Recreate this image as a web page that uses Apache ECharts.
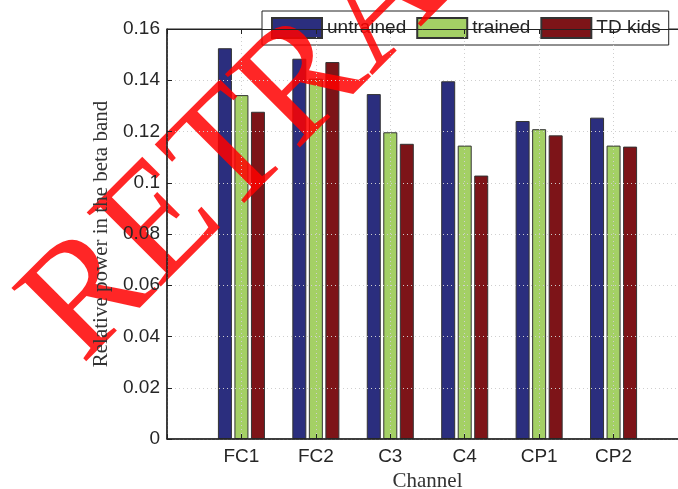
<!DOCTYPE html>
<html>
<head>
<meta charset="utf-8">
<script src="https://cdn.jsdelivr.net/npm/echarts@6/dist/echarts.min.js"></script>
<style>html,body{margin:0;padding:0;background:#fff}#c{width:678px;height:489px}</style>
</head>
<body>
<div id="c"></div>
<script>
var categories = ['FC1', 'FC2', 'C3', 'C4', 'CP1', 'CP2'];
var untrained = [0.1525, 0.1484, 0.1346, 0.1396, 0.1241, 0.1254];
var trained   = [0.1342, 0.1406, 0.1197, 0.1145, 0.1209, 0.1145];
var tdKids    = [0.1277, 0.1471, 0.1152, 0.1028, 0.1185, 0.1141];
var yTicks = [0, 0.02, 0.04, 0.06, 0.08, 0.1, 0.12, 0.14, 0.16];

function pairs(arr) { return arr.map(function (v, i) { return [i + 1, v]; }); }

var chart = echarts.init(document.getElementById('c'), null, {renderer: 'canvas'});
var sans = 'Liberation Sans, Arial, sans-serif';
var serif = 'Liberation Serif, Times New Roman, serif';
function barSeries(name, data, color) {
  return {
    name: name, type: 'bar', data: pairs(data), barWidth: 14, barGap: '18%', z: 2,
    itemStyle: {color: color, borderColor: '#333', borderWidth: 1},
    emphasis: {disabled: true}
  };
}
var wmAngle = 45 * Math.PI / 180;
chart.setOption({
  animation: false,
  backgroundColor: '#fff',
  grid: {left: 167, top: 29, width: 521, height: 410, show: true, borderColor: '#222', borderWidth: 1,
    containLabel: false, outerBoundsMode: 'none'},
  legend: {
    left: 262, top: 11, padding: [6, 8, 6, 9], itemWidth: 50, itemHeight: 20, itemGap: 10, z: 4,
    icon: 'rect',
    backgroundColor: '#fff', borderColor: '#222', borderWidth: 1,
    textStyle: {fontFamily: sans, fontSize: 19, color: '#262626'},
    data: ['untrained', 'trained', 'TD kids']
  },
  xAxis: [{
    type: 'value', min: 0, max: 7, interval: 1, z: 10,
    name: 'Channel', nameLocation: 'middle', nameGap: 27,
    nameTextStyle: {fontFamily: serif, fontSize: 21, color: '#333'},
    axisLine: {show: true, lineStyle: {color: '#222', width: 1.5}},
    axisTick: {show: true, inside: true, length: 5, lineStyle: {color: '#222'}},
    axisLabel: {margin: 8, fontFamily: sans, fontSize: 19, color: '#262626',
      formatter: function (v) { return categories[v - 1] || ''; }},
    splitLine: {show: true, lineStyle: {color: '#cfcfcf', type: [1, 3], width: 1}}
  }, {
    type: 'value', min: 0, max: 7, interval: 1, position: 'top', z: 10,
    axisLine: {show: true, lineStyle: {color: '#222', width: 1}},
    axisTick: {show: true, inside: true, length: 5, lineStyle: {color: '#222'}},
    axisLabel: {show: false}, splitLine: {show: false}
  }],
  yAxis: {
    type: 'value', min: 0, max: 0.16, interval: 0.02, z: 10,
    name: 'Relative power in the beta band', nameLocation: 'middle', nameGap: 47,
    nameTextStyle: {fontFamily: serif, fontSize: 21, color: '#333'},
    axisLine: {show: true, lineStyle: {color: '#222', width: 1.5}},
    axisTick: {show: true, inside: true, length: 5, lineStyle: {color: '#222'}},
    axisLabel: {margin: 7, fontFamily: sans, fontSize: 19, color: '#262626',
      formatter: function (v) { var t = yTicks.filter(function (k) { return Math.abs(k - v) < 1e-9; }); return t.length ? String(+t[0].toFixed(2)) : ''; }},
    splitLine: {show: true, lineStyle: {color: '#cfcfcf', type: [1, 3], width: 1}}
  },
  series: [
    barSeries('untrained', untrained, '#2b2e7e'),
    barSeries('trained', trained, '#a4d065'),
    barSeries('TD kids', tdKids, '#7d1418')
  ],
  graphic: [{
    type: 'text', x: 109, y: 392, rotation: wmAngle, z: 5, silent: true,
    style: {text: 'RETRACTED', fontFamily: serif, fontSize: 160, fill: 'rgba(255,0,0,0.85)',
      align: 'left', verticalAlign: 'bottom'}
  }]
});
</script>
</body>
</html>
